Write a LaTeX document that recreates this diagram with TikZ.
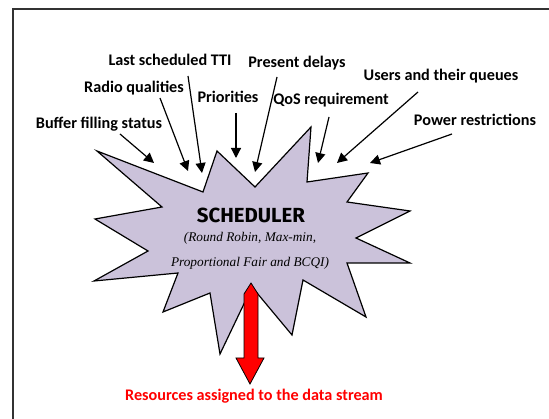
\documentclass[tikz,border=0pt]{standalone}
\usepackage{fontspec}
\setmainfont{Carlito}
\newfontfamily\schedfont{Fira Sans}
\newfontfamily\itserif{Liberation Serif}
\usetikzlibrary{arrows.meta}
\definecolor{starfill}{RGB}{203,194,218}
\definecolor{framegray}{RGB}{50,50,50}
\definecolor{resred}{RGB}{255,0,0}
\tikzset{
  lbl/.style={font=\fontsize{16.2}{18}\selectfont\bfseries, inner sep=0pt},
  inarrow/.style={line width=1.2pt, -{Triangle[length=10pt,width=10pt]}},
  starstyle/.style={draw=black, line width=1.2pt, fill=starfill, line join=miter},
  algtext/.style={inner sep=0pt, font=\itserif\fontsize{13.3}{15}\selectfont\itshape},
}
\begin{document}
\begin{tikzpicture}[x=1pt,y=-1pt]
\useasboundingbox (0,0) rectangle (549,419);
% frame
\draw[framegray, line width=2pt] (13,419) -- (13,9) -- (549,9);

% star
\draw[starstyle]
  (97,151) -- (203,192) -- (217,151) -- (255,187) -- (311,127) -- (307,182)
  -- (368,173) -- (347,202) -- (410,211) -- (356,238) -- (410,263) -- (347,263)
  -- (366,317) -- (303,280) -- (292,335) -- (252,287) -- (220,354) -- (210,293)
  -- (163,312) -- (178,273) -- (94,281) -- (148,251) -- (95,219) -- (162,207) -- cycle;

% scheduler text
\node[inner sep=0pt, font=\schedfont\fontsize{20.4}{22}\selectfont\bfseries] (sched) at (251,215) {SCHEDULER};
\node[algtext] (algs1) at (250,238) {(Round Robin, Max-min,};
\node[algtext] (algs2) at (250,263) {Proportional Fair and BCQI)};

% red output arrow
\draw[black, line width=0.8pt, fill=resred]
  (251,283) -- (258,294) -- (258,358) -- (264,358) -- (250,384) -- (236,358)
  -- (244,358) -- (244,294) -- cycle;
\node[lbl, text=resred] (res) at (254,396) {Resources assigned to the data stream};

% labels
\node[lbl] (buf) at (99,124) {Buffer filling status};
\node[lbl] (radio) at (134,88) {Radio qualities};
\node[lbl] (last) at (170,60) {Last scheduled TTI};
\node[lbl] (prio) at (228,97) {Priorities};
\node[lbl] (pres) at (297,63) {Present delays};
\node[lbl] (qos) at (331,100) {QoS requirement};
\node[lbl] (users) at (441,76) {Users and their queues};
\node[lbl] (power) at (475,120) {Power restrictions};

% arrow endpoints
\coordinate (bufS) at (120,134);  \coordinate (bufT) at (154,163);
\coordinate (radS) at (160,98);   \coordinate (radT) at (188,171);
\coordinate (lasS) at (188,76);   \coordinate (lasT) at (202,173);
\coordinate (priS) at (236,113);  \coordinate (priT) at (236,158);
\coordinate (preS) at (277,77);   \coordinate (preT) at (255,172);
\coordinate (qosS) at (329,117);  \coordinate (qosT) at (318,163);
\coordinate (useS) at (418,92);   \coordinate (useT) at (337,163);
\coordinate (powS) at (452,134);  \coordinate (powT) at (370,163);

\draw[inarrow] (bufS) -- (bufT);
\draw[inarrow] (radS) -- (radT);
\draw[inarrow] (lasS) -- (lasT);
\draw[inarrow] (priS) -- (priT);
\draw[inarrow] (preS) -- (preT);
\draw[inarrow] (qosS) -- (qosT);
\draw[inarrow] (useS) -- (useT);
\draw[inarrow] (powS) -- (powT);
\end{tikzpicture}
\end{document}
